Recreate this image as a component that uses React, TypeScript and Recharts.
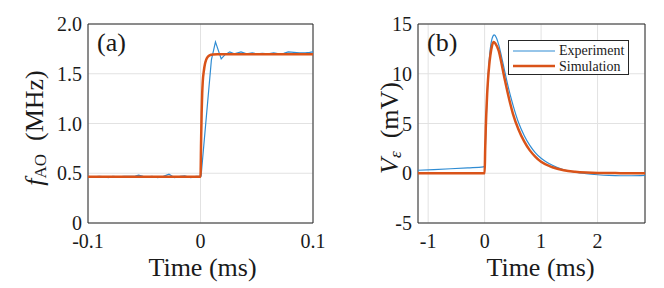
import { LineChart, Line, XAxis, YAxis, CartesianGrid, ReferenceArea, Legend } from "recharts";

// panel (a): AO frequency step, time in ms, value in MHz
const expA: [number, number][] = [
  [-0.1, 0.47], [-0.095, 0.465], [-0.09, 0.47], [-0.085, 0.465], [-0.082, 0.455], [-0.078, 0.47],
  [-0.073, 0.465], [-0.068, 0.47], [-0.063, 0.468], [-0.058, 0.472], [-0.055, 0.48], [-0.051, 0.47],
  [-0.047, 0.465], [-0.043, 0.47], [-0.038, 0.455], [-0.033, 0.468], [-0.028, 0.49], [-0.023, 0.455],
  [-0.018, 0.47], [-0.014, 0.475], [-0.0086, 0.455], [-0.004, 0.468], [0, 0.47], [0.0005, 0.47],
  [0.0097, 1.64], [0.0133, 1.82], [0.0184, 1.65], [0.0216, 1.69], [0.026, 1.72], [0.03, 1.7],
  [0.036, 1.72], [0.041, 1.7], [0.046, 1.71], [0.05, 1.7], [0.055, 1.705], [0.06, 1.7],
  [0.065, 1.71], [0.07, 1.7], [0.074, 1.705], [0.078, 1.72], [0.083, 1.715], [0.088, 1.71],
  [0.093, 1.71], [0.097, 1.715], [0.1, 1.72],
];
const simA: [number, number][] = [
  [-0.1, 0.465], [0, 0.465], [0.0005, 0.8], [0.001, 1.1], [0.0015, 1.3], [0.002, 1.42], [0.003, 1.53],
  [0.004, 1.6], [0.005, 1.64], [0.0065, 1.67], [0.008, 1.685], [0.011, 1.693], [0.015, 1.695], [0.1, 1.695],
];

// panel (b): voltage pulse, time in ms, value in mV
const expB: [number, number][] = [
  [-1.18, 0.3], [-0.9, 0.36], [-0.6, 0.45], [-0.3, 0.55], [-0.02, 0.65], [0, 0.75], [0.02, 4.0],
  [0.04, 7.2], [0.06, 9.6], [0.08, 11.3], [0.1, 12.5], [0.13, 13.5], [0.17, 13.9], [0.21, 13.6],
  [0.25, 12.9], [0.3, 11.7], [0.35, 10.4], [0.4, 9.1], [0.5, 6.9], [0.6, 5.1], [0.7, 3.8], [0.8, 2.8],
  [0.9, 2.05], [1.0, 1.5], [1.2, 0.8], [1.4, 0.35], [1.6, 0.1], [1.8, -0.05], [2.0, -0.15],
  [2.2, -0.22], [2.4, -0.25], [2.6, -0.25], [2.84, -0.22],
];
const simB: [number, number][] = [
  [-1.18, 0], [0, 0], [0.01, 2.5], [0.02, 4.5], [0.03, 6.1], [0.045, 8.0], [0.06, 9.4], [0.08, 10.8],
  [0.1, 11.8], [0.13, 12.8], [0.16, 13.2], [0.19, 13.05], [0.25, 12.3], [0.3, 11.0], [0.35, 9.6],
  [0.4, 8.3], [0.5, 6.0], [0.6, 4.4], [0.7, 3.2], [0.8, 2.3], [0.9, 1.65], [1.0, 1.15], [1.2, 0.6],
  [1.4, 0.3], [1.6, 0.15], [1.8, 0.07], [2.0, 0.03], [2.4, 0.01], [2.84, 0],
];

const xDomainA: [number, number] = [-0.1, 0.1];
const xTicksA = [-0.1, 0, 0.1];
const yDomainA: [number, number] = [0, 2];
const yTicksA = [0, 0.5, 1, 1.5, 2];

const xDomainB: [number, number] = [-1.18, 2.84];
const xTicksB = [-1, 0, 1, 2];
const yDomainB: [number, number] = [-5, 15];
const yTicksB = [-5, 0, 5, 10, 15];

const FONT = "'Liberation Serif', 'Times New Roman', serif";
const BLUE = "#2f8cd3";
const ORANGE = "#D95319";
const GRID = "#e2e2e2";
const FRAME = "#262626";
const INK = "#1a1a1a";

const toRows = (pts: [number, number][]) => pts.map(([t, v]) => ({ t, v }));

function LegendBox() {
  const row = (color: string, width: number, name: string) => (
    <div style={{ display: "flex", alignItems: "center", height: 15.5 }}>
      <svg width={42} height={6} style={{ display: "block" }}>
        <line x1={0} x2={42} y1={3} y2={3} stroke={color} strokeWidth={width} />
      </svg>
      <span style={{ marginLeft: 4, fontSize: 14, lineHeight: "15px", color: INK, fontFamily: FONT }}>{name}</span>
    </div>
  );
  return (
    <div
      style={{
        width: 121, height: 35, boxSizing: "border-box", border: `1px solid ${FRAME}`,
        background: "#fff", padding: "2px 0 0 4px", fontFamily: FONT,
      }}
    >
      {row(BLUE, 1.2, "Experiment")}
      {row(ORANGE, 2.5, "Simulation")}
    </div>
  );
}

interface PanelProps {
  exp: [number, number][];
  sim: [number, number][];
  xDomain: [number, number];
  xTicks: number[];
  yDomain: [number, number];
  yTicks: number[];
  yFmt: (v: number) => string;
  plotLeft: number;
  tag: string;
  timeDx: number;
  yLabel: (cx: number, cy: number) => JSX.Element;
  yLabelX: number;
  legend?: boolean;
  expType: "linear" | "monotone";
}

function Panel(p: PanelProps) {
  const tickStyle = { fill: INK, fontSize: 20, fontFamily: FONT };
  return (
    <LineChart width={332} height={288} margin={{ top: 24, right: 19, bottom: 0, left: 0 }}>
      <CartesianGrid stroke={GRID} />
      <XAxis
        dataKey="t"
        type="number"
        domain={p.xDomain}
        ticks={p.xTicks}
        allowDataOverflow
        height={65}
        axisLine={false}
        tickLine={false}
        tickSize={0}
        tickMargin={11}
        tick={tickStyle}
        label={(lp: any) => {
          const vb = lp.viewBox || {};
          return (
            <text x={vb.x + vb.width / 2 + p.timeDx} y={276} textAnchor="middle" fontFamily={FONT} fontSize={26} fill={INK}>
              Time (ms)
            </text>
          );
        }}
      />
      <YAxis
        type="number"
        domain={p.yDomain}
        ticks={p.yTicks}
        allowDataOverflow
        width={p.plotLeft}
        axisLine={false}
        tickLine={false}
        tickSize={0}
        tickMargin={6}
        tick={tickStyle}
        tickFormatter={p.yFmt}
        label={() => p.yLabel(p.yLabelX, 128)}
      />
      <ReferenceArea
        x1={p.xDomain[0]}
        x2={p.xDomain[1]}
        y1={p.yDomain[0]}
        y2={p.yDomain[1]}
        fill="none"
        stroke={FRAME}
        strokeWidth={1}
        ifOverflow="visible"
        label={{ value: p.tag, position: "insideTopLeft", offset: 9, fontSize: 26, fontFamily: FONT, fill: INK }}
      />
      <Line
        data={toRows(p.exp)}
        dataKey="v"
        name="Experiment"
        type={p.expType}
        stroke={BLUE}
        strokeWidth={1.2}
        dot={false}
        isAnimationActive={false}
      />
      <Line
        data={toRows(p.sim)}
        dataKey="v"
        name="Simulation"
        type="monotone"
        stroke={ORANGE}
        strokeWidth={2.5}
        dot={false}
        isAnimationActive={false}
      />
      {p.legend && (
        <Legend
          layout="horizontal"
          align="center"
          verticalAlign="middle"
          content={() => <LegendBox />}
          wrapperStyle={{ left: 176, top: 40, width: 121, height: 35 }}
        />
      )}
    </LineChart>
  );
}

const labelA = (cx: number, cy: number) => (
  <text
    x={0}
    y={0}
    transform={`translate(${cx},${cy}) rotate(-90)`}
    textAnchor="middle"
    dominantBaseline="central"
    fontFamily={FONT}
    fontSize={26}
    fill={INK}
  >
    <tspan fontStyle="italic">f</tspan>
    <tspan fontSize={17} dy={6}>AO</tspan>
    <tspan dy={-6}>{"\u00a0\u00a0(MHz)"}</tspan>
  </text>
);

const labelB = (cx: number, cy: number) => (
  <text
    x={0}
    y={0}
    transform={`translate(${cx},${cy}) rotate(-90)`}
    textAnchor="middle"
    dominantBaseline="central"
    fontFamily={FONT}
    fontSize={26}
    fill={INK}
  >
    <tspan fontStyle="italic">V</tspan>
    <tspan fontSize={17} fontStyle="italic" dy={6}>ε</tspan>
    <tspan dy={-6}>{"\u00a0\u00a0(mV)"}</tspan>
  </text>
);

export default function App() {
  return (
    <div style={{ position: "fixed", left: 0, top: 0, width: 664, height: 288, background: "#fff", fontFamily: FONT }}>
      <div style={{ position: "absolute", left: 0, top: 0 }}>
        <Panel
          exp={expA}
          sim={simA}
          xDomain={xDomainA}
          xTicks={xTicksA}
          yDomain={yDomainA}
          yTicks={yTicksA}
          yFmt={(v) => (v === 0 ? "0" : v.toFixed(1))}
          plotLeft={88}
          tag="(a)"
          timeDx={2}
          yLabel={labelA}
          yLabelX={34}
          expType="linear"
        />
      </div>
      <div style={{ position: "absolute", left: 332, top: 0 }}>
        <Panel
          exp={expB}
          sim={simB}
          xDomain={xDomainB}
          xTicks={xTicksB}
          yDomain={yDomainB}
          yTicks={yTicksB}
          yFmt={(v) => String(v)}
          plotLeft={86}
          tag="(b)"
          timeDx={9}
          yLabel={labelB}
          yLabelX={57}
          legend
          expType="monotone"
        />
      </div>
    </div>
  );
}
